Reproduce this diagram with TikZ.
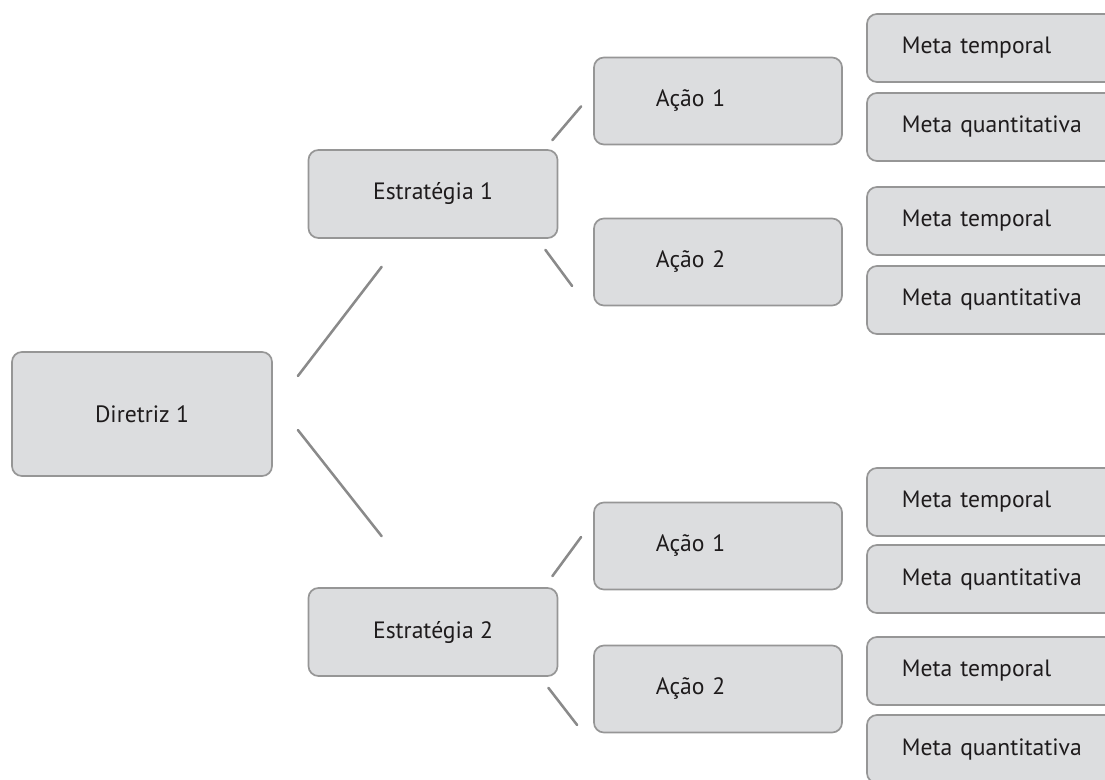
\documentclass[tikz,border=0pt]{standalone}
\usepackage{fontspec}
\setmainfont{PT Sans}
\usepackage{tikz}
\usetikzlibrary{calc, positioning}

\definecolor{boxfill}{RGB}{220,221,223}
\definecolor{boxline}{RGB}{150,150,150}
\definecolor{linkgray}{RGB}{138,138,138}
\definecolor{textdark}{RGB}{30,27,28}

\begin{document}
\begin{tikzpicture}[
    x=0.025cm, y=-0.025cm,
    font=\fontsize{16.8}{20}\selectfont,
    text=textdark
]
    % Page frame (pixel grid, y pointing down)
    \useasboundingbox (0,0) rectangle (1105,780);
    \clip (0,0) rectangle (1105,780);

    % Styles for blocks
    \tikzstyle{block} = [draw=boxline, line width=1.2pt, fill=boxfill, rectangle, rounded corners=0.25cm, inner sep=0pt]
    \tikzstyle{diretriz_style} = [block, minimum width=6.5cm, minimum height=3.1cm]
    \tikzstyle{estrategia_style} = [block, minimum width=6.225cm, minimum height=2.2cm]
    \tikzstyle{acao_style} = [block, minimum height=2.175cm, text width=3.1cm, inner xsep=1.55cm, align=left]
    \tikzstyle{meta_style} = [block, minimum height=1.7cm, text width=5cm, inner xsep=0.875cm, align=left]
    \tikzstyle{link} = [draw=linkgray, line width=1.8pt, line cap=round]

    % Components

    % Diretriz (Left)
    \node [diretriz_style] (Dir) at (142,414) {Diretriz 1};

    % Estrategias
    \node [estrategia_style] (Est1) at (433,194) {Estratégia 1};
    \node [estrategia_style] (Est2) at (433,632) {Estratégia 2};

    % Acoes
    \node [acao_style] (Acao11) at (718,101) {Ação 1};
    \node [acao_style] (Acao12) at (718,262) {Ação 2};
    \node [acao_style] (Acao21) at (718,546) {Ação 1};
    \node [acao_style] (Acao22) at (718,689) {Ação 2};

    % Metas (Right, cut by the page edge)
    \node [meta_style] (Meta11t) at (1002,48) {Meta temporal};
    \node [meta_style] (Meta11q) at (1002,127) {Meta quantitativa};
    \node [meta_style] (Meta12t) at (1002,221) {Meta temporal};
    \node [meta_style] (Meta12q) at (1002,300) {Meta quantitativa};
    \node [meta_style] (Meta21t) at (1002,502) {Meta temporal};
    \node [meta_style] (Meta21q) at (1002,579) {Meta quantitativa};
    \node [meta_style] (Meta22t) at (1002,671) {Meta temporal};
    \node [meta_style] (Meta22q) at (1002,749) {Meta quantitativa};

    % Connections (short strokes in the gaps)

    % 1. Diretriz -> Estrategias
    \draw [link] ($(Dir.east)+(25,-38)$) -- ($(Est1.south west)+(74,28)$);
    \draw [link] ($(Dir.east)+(25,16)$) -- ($(Est2.north west)+(74,-51)$);

    % 2. Estrategia 1 -> Acoes
    \draw [link] ($(Est1.north east)+(-6,-9)$) -- ($(Acao11.south west)+(-12,-39)$);
    \draw [link] ($(Est1.south east)+(-13,11)$) -- ($(Acao12.west)+(-21,24)$);

    % 3. Estrategia 2 -> Acoes
    \draw [link] ($(Est2.north east)+(-6,-11)$) -- ($(Acao21.west)+(-12,-9)$);
    \draw [link] ($(Est2.south east)+(-10,11)$) -- ($(Acao22.west)+(-16,36)$);

\end{tikzpicture}
\end{document}
